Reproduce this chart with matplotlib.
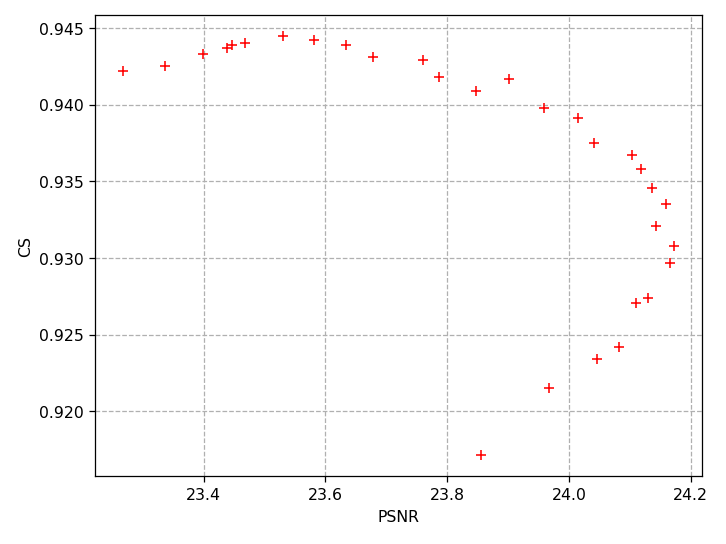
import matplotlib
matplotlib.use("Agg")
import matplotlib.pyplot as plt

# PSNR / CS pairs
psnr = [23.267, 23.336, 23.399, 23.438, 23.447, 23.468, 23.530, 23.582,
        23.634, 23.678, 23.760, 23.786, 23.847, 23.902, 23.959, 24.015,
        24.041, 24.103, 24.118, 24.137, 24.160, 24.143, 24.173, 24.167,
        24.130, 24.110, 24.083, 24.047, 23.968, 23.855]
cs = [0.94222, 0.94250, 0.94329, 0.94368, 0.94389, 0.94402, 0.94448, 0.94420,
      0.94389, 0.94309, 0.94289, 0.94179, 0.94091, 0.94170, 0.93980, 0.93911,
      0.93750, 0.93672, 0.93581, 0.93459, 0.93351, 0.93209, 0.93079, 0.92970,
      0.92740, 0.92709, 0.92420, 0.92340, 0.92151, 0.91712]

fig, ax = plt.subplots(figsize=(6.4, 4.8), dpi=113.5)
ax.plot(psnr, cs, "r+", linestyle="none")
ax.set_xlabel("PSNR")
ax.set_ylabel("CS")
ax.grid(True, linestyle="--")
fig.subplots_adjust(left=0.131, right=0.966, top=0.971, bottom=0.124)
fig.savefig("out.png", dpi=113.5)
